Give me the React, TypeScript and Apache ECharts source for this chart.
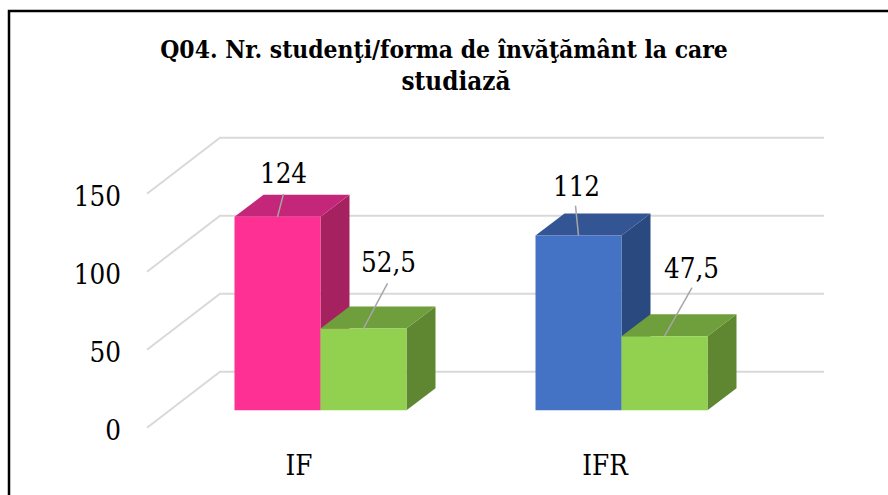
import React, { useEffect, useRef } from "react";
import * as echarts from "echarts";

const categories = ["IF", "IFR"];
const firstSeries = [124, 112];
const secondSeries = [52.5, 47.5];
const firstLabels = ["124", "112"];
const secondLabels = ["52,5", "47,5"];
const yTicks = [0, 50, 100, 150];
const titleLines = ["Q04. Nr. studenţi/forma de învăţământ la care", "studiază"];

const frontFirst = ["#FF3094", "#4472C4"];
const topFirst = ["#C4277A", "#335593"];
const sideFirst = ["#A6215F", "#2A4A7F"];
const frontSecond = ["#92D14F", "#92D14F"];
const topSecond = ["#6F9E3C", "#6F9E3C"];
const sideSecond = ["#5F8731", "#5F8731"];

// label placement relative to the top-front centre of each bar: [labelDx, labelDy, leaderDx, leaderDy]
const firstOffsets = [[6, -44, 6, -23], [-2, -50, -3, -30]];
const secondOffsets = [[25, -66, 24, -45], [27, -68, 27.5, -48.5]];

const FONT = '"DejaVu Serif Condensed", "DejaVu Serif", serif';
const LABEL_SIZE = 27.5;
const BAR_FRAC = 86 / 301;
const DX = 29;
const DY = 22;
const FLOOR_DX = 73;
const FLOOR_DY = 56;
const WALL_RIGHT = 824;
const LABEL_DROP = 2.5;

function barRenderer(side: number, fronts: string[], tops: string[], sides: string[], labels: string[], offsets: number[][]) {
  return (_params: any, api: any) => {
    const idx = api.value(0);
    const value = api.value(1);
    const [cx, yTop] = api.coord([idx, value]);
    const [, yBase] = api.coord([idx, 0]);
    const w = api.size([1, 0])[0] * BAR_FRAC;
    const x0 = side < 0 ? cx - w : cx;
    const x1 = x0 + w;
    const mid = x0 + w / 2;
    const [lx, ly, ex, ey] = offsets[idx];
    return {
      type: "group",
      children: [
        { type: "polygon", shape: { points: [[x1, yTop], [x1 + DX, yTop - DY], [x1 + DX, yBase - DY], [x1, yBase]] }, style: { fill: sides[idx] } },
        { type: "polygon", shape: { points: [[x0, yTop], [x0 + DX, yTop - DY], [x1 + DX, yTop - DY], [x1, yTop]] }, style: { fill: tops[idx] } },
        { type: "rect", shape: { x: x0, y: yTop, width: w, height: yBase - yTop }, style: { fill: fronts[idx] } },
        { type: "line", shape: { x1: mid, y1: yTop, x2: mid + ex, y2: yTop + ey }, style: { stroke: "#A6A6A6", lineWidth: 1.5 } },
        { type: "text", style: { text: labels[idx], x: mid + lx, y: yTop + ly, font: `${LABEL_SIZE}px ${FONT}`, fill: "#000", align: "center", verticalAlign: "middle" } },
      ],
    };
  };
}

export default function App() {
  const ref = useRef<HTMLDivElement>(null);
  useEffect(() => {
    const chart = echarts.init(ref.current!, undefined, { renderer: "svg" });
    chart.setOption({
      animation: false,
      backgroundColor: "#fff",
      title: [
        {
          text: titleLines[0],
          left: 439,
          top: 28,
          textAlign: "center",
          textStyle: { fontFamily: FONT, fontWeight: "bold", fontSize: 24.4, lineHeight: 32, color: "#000" },
        },
        {
          text: titleLines[1],
          left: 451,
          top: 60,
          textAlign: "center",
          textStyle: { fontFamily: FONT, fontWeight: "bold", fontSize: 25.8, lineHeight: 32, color: "#000" },
        },
      ],
      graphic: [
        { type: "polyline", shape: { points: [[9, 495], [9, 11], [888, 11]] }, style: { stroke: "#000", lineWidth: 2.5, fill: "none" } },
      ],
      grid: [
        { left: 146, width: 612, top: 193.7 + LABEL_DROP, height: 234 },
        { left: 170, width: 602, top: 176.3, height: 234 },
      ],
      xAxis: [
        {
          gridIndex: 0, type: "category", data: categories,
          axisLine: { show: false }, axisTick: { show: false },
          axisLabel: { fontFamily: FONT, fontSize: LABEL_SIZE, color: "#000", margin: 20.5 },
        },
        { gridIndex: 1, type: "category", data: categories, show: false },
      ],
      yAxis: [
        {
          gridIndex: 0, type: "value", min: 0, max: 150, interval: 50,
          axisLine: { show: false }, axisTick: { show: false }, splitLine: { show: false },
          axisLabel: { fontFamily: FONT, fontSize: LABEL_SIZE, color: "#000", margin: 25 },
        },
        { gridIndex: 1, type: "value", min: 0, max: 150, interval: 50, show: false, splitLine: { show: false } },
      ],
      series: [
        {
          type: "custom", name: "Grid", xAxisIndex: 0, yAxisIndex: 0, clip: false, silent: true,
          data: yTicks.map((v) => [0, v]),
          encode: { x: 0, y: 1 },
          renderItem: (params: any, api: any) => {
            const y = api.coord([0, api.value(1)])[1] - LABEL_DROP;
            const x = params.coordSys.x;
            return {
              type: "polyline",
              shape: { points: [[x + 1, y], [x + 1 + FLOOR_DX, y - FLOOR_DY], [WALL_RIGHT, y - FLOOR_DY]] },
              style: { stroke: "#D9D9D9", lineWidth: 2, fill: "none" },
            };
          },
        },
        {
          type: "custom", name: "Seria 1", xAxisIndex: 1, yAxisIndex: 1, clip: false,
          data: firstSeries.map((v, i) => [i, v]),
          encode: { x: 0, y: 1 },
          renderItem: barRenderer(-1, frontFirst, topFirst, sideFirst, firstLabels, firstOffsets),
        },
        {
          type: "custom", name: "Seria 2", xAxisIndex: 1, yAxisIndex: 1, clip: false,
          data: secondSeries.map((v, i) => [i, v]),
          encode: { x: 0, y: 1 },
          renderItem: barRenderer(1, frontSecond, topSecond, sideSecond, secondLabels, secondOffsets),
        },
      ],
    });
    return () => chart.dispose();
  }, []);
  return <div ref={ref} style={{ position: "absolute", left: 0, top: 0, width: 888, height: 495 }} />;
}
